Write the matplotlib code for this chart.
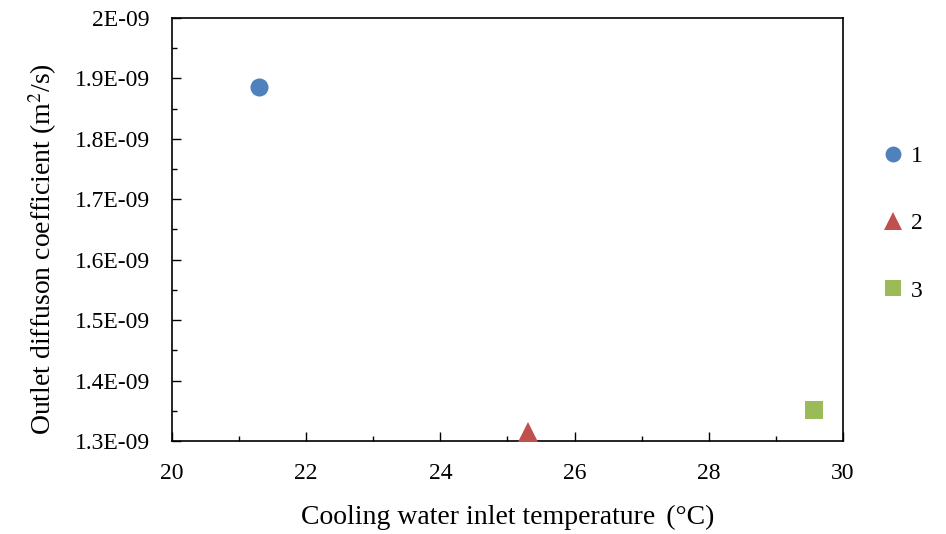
import matplotlib
matplotlib.use("Agg")
import matplotlib.pyplot as plt
from matplotlib.ticker import MultipleLocator

plt.rcParams['font.family'] = ['Liberation Serif', 'DejaVu Serif']
plt.rcParams['mathtext.fontset'] = 'stix'

# Data
series_labels = ["1", "2", "3"]
temperatures = [21.3, 25.3, 29.57]
diffusion = [1.886e-9, 1.315e-9, 1.351e-9]
markers = ["o", "^", "s"]
colors = ["#4F81BD", "#C0504D", "#9BBB59"]
marker_sizes = [13, 14.5, 13.5]

y_ticks = [1.3e-9, 1.4e-9, 1.5e-9, 1.6e-9, 1.7e-9, 1.8e-9, 1.9e-9, 2.0e-9]
y_tick_labels = ["1.3E-09", "1.4E-09", "1.5E-09", "1.6E-09", "1.7E-09", "1.8E-09", "1.9E-09", "2E-09"]
x_ticks = [20, 22, 24, 26, 28, 30]

fig = plt.figure(figsize=(9.46, 5.34), dpi=100)
ax = fig.add_axes([0.1818, 0.1742, 0.7092, 0.7921])

for t, d, m, c, s, lab in zip(temperatures, diffusion, markers, colors, marker_sizes, series_labels):
    ax.plot([t], [d], linestyle="none", marker=m, color=c, markersize=s, label=lab,
            markeredgewidth=0, clip_on=False, zorder=5)

ax.set_xlim(20, 30)
ax.set_ylim(1.3e-9, 2.0e-9)
ax.set_xticks(x_ticks)
ax.set_xticklabels([str(v) for v in x_ticks])
ax.set_yticks(y_ticks)
ax.set_yticklabels(y_tick_labels)
ax.xaxis.set_minor_locator(MultipleLocator(1))
ax.yaxis.set_minor_locator(MultipleLocator(0.05e-9))

ax.tick_params(which="major", direction="in", length=6.5, width=1.0, labelsize=17, color="black")
ax.tick_params(which="minor", direction="in", length=3.5, width=1.0, color="black")
ax.tick_params(axis="y", which="major", pad=16)
ax.tick_params(axis="x", which="major", pad=16)
for sp in ax.spines.values():
    sp.set_linewidth(1.2)
    sp.set_color("black")

ax.set_xlabel("Cooling water inlet temperature\u2009\u2009(°C)", fontsize=20, labelpad=15)
ax.set_ylabel("Outlet diffuson coefficient (m$^2$/s)", fontsize=20, labelpad=11, y=0.455)

leg = fig.legend(loc="upper left", bbox_to_anchor=(0.934, 0.727), frameon=False, fontsize=17,
                 handlelength=0.8, handletextpad=0.35, labelspacing=1.93, borderpad=0,
                 borderaxespad=0, markerscale=0.88)

fig.savefig("out.png", dpi=100)
